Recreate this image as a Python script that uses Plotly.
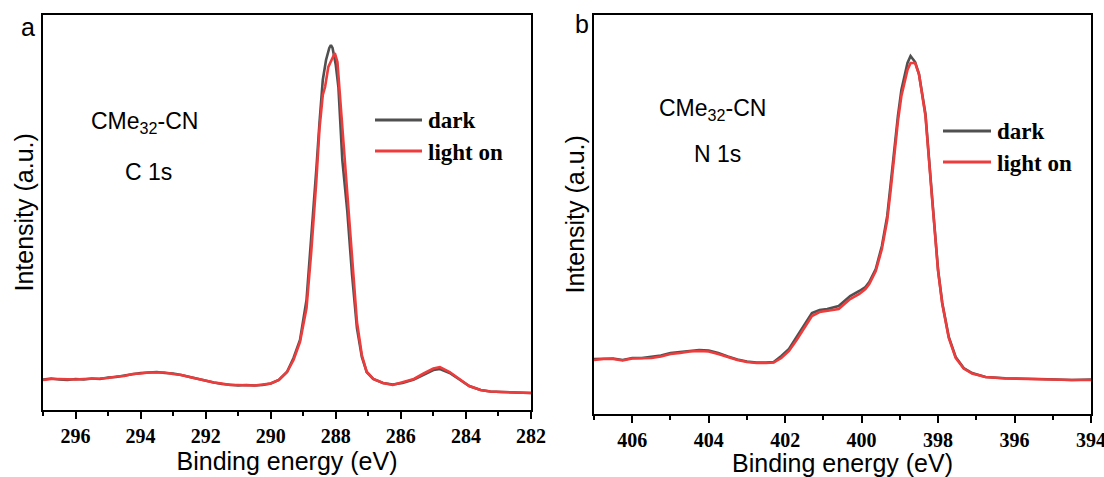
import plotly.graph_objects as go

# ---------------- Panel a: C 1s ----------------
c1s_energy_dark = [297.0, 296.75, 296.5, 296.25, 296.0, 295.75, 295.5, 295.25, 295.0, 294.75,
                   294.5, 294.25, 294.0, 293.75, 293.5, 293.25, 293.0, 292.75, 292.5, 292.25,
                   292.0, 291.75, 291.5, 291.25, 291.0, 290.75, 290.5, 290.25, 290.0, 289.75,
                   289.5, 289.3, 289.1, 288.9, 288.75, 288.6, 288.5, 288.4, 288.3, 288.2,
                   288.15, 288.1, 288.0, 287.92, 287.8, 287.65, 287.5, 287.35, 287.2, 287.05,
                   286.85, 286.55, 286.25, 285.95, 285.6, 285.3, 285.0, 284.8, 284.5, 284.2,
                   283.9, 283.55, 283.25, 282.9, 282.6, 282.3, 282.0]
c1s_dark = [30.5, 31.5, 30.5, 30.0, 31.0, 30.5, 31.5, 31.0, 32.5, 33.0,
            34.5, 36.0, 37.0, 37.5, 38.0, 37.0, 36.5, 35.0, 33.0, 31.5,
            29.5, 27.5, 26.0, 25.0, 24.5, 25.0, 24.5, 25.0, 26.5, 30.0,
            38.0, 52.0, 70.0, 110.0, 172.0, 240.0, 288.0, 330.0, 350.0, 362.0,
            365.0, 362.0, 345.0, 323.0, 250.0, 200.0, 135.0, 82.0, 53.0, 38.0,
            31.0, 27.0, 25.5, 27.0, 30.5, 35.5, 40.0, 41.0, 37.0, 30.5,
            24.0, 20.0, 18.5, 18.0, 17.5, 17.5, 17.0]

c1s_energy_light = [297.0, 296.75, 296.5, 296.25, 296.0, 295.75, 295.5, 295.25, 295.0, 294.75,
                    294.5, 294.25, 294.0, 293.75, 293.5, 293.25, 293.0, 292.75, 292.5, 292.25,
                    292.0, 291.75, 291.5, 291.25, 291.0, 290.75, 290.5, 290.25, 290.0, 289.75,
                    289.5, 289.3, 289.1, 288.9, 288.75, 288.6, 288.5, 288.4, 288.33, 288.23,
                    288.1, 288.03, 287.95, 287.85, 287.72, 287.6, 287.5, 287.35, 287.2, 287.05,
                    286.85, 286.55, 286.25, 285.95, 285.6, 285.3, 285.0, 284.8, 284.5, 284.2,
                    283.9, 283.55, 283.25, 282.9, 282.6, 282.3, 282.0]
c1s_light = [30.0, 31.0, 31.0, 30.5, 30.5, 31.0, 31.0, 31.5, 32.0, 33.5,
             34.0, 36.0, 36.5, 37.5, 37.5, 37.5, 36.0, 35.0, 33.0, 31.0,
             29.5, 27.5, 26.5, 25.0, 25.0, 24.5, 24.5, 25.5, 26.5, 30.0,
             38.0, 50.0, 68.0, 102.0, 160.0, 228.0, 282.0, 315.0, 323.0, 343.0,
             352.0, 357.0, 348.0, 305.0, 242.0, 195.0, 145.0, 88.0, 55.0, 38.0,
             31.0, 27.0, 25.0, 27.5, 31.0, 36.5, 41.5, 43.0, 38.0, 31.0,
             24.0, 20.0, 18.5, 18.0, 17.5, 17.0, 17.0]

# ---------------- Panel b: N 1s ----------------
n1s_energy = [407.0, 406.75, 406.5, 406.25, 406.0, 405.75, 405.5, 405.25, 405.0, 404.75,
              404.5, 404.25, 404.0, 403.75, 403.5, 403.25, 403.0, 402.75, 402.5, 402.3,
              402.1, 401.9, 401.7, 401.5, 401.3, 401.1, 400.9, 400.6, 400.45, 400.3,
              400.06, 399.9, 399.8, 399.63, 399.47, 399.33, 399.24, 399.15, 399.05, 398.96,
              398.87, 398.8, 398.72, 398.6, 398.5, 398.33, 398.15, 398.0, 397.89, 397.72,
              397.54, 397.33, 397.11, 396.76, 396.24, 395.8, 395.37, 394.9, 394.5, 394.0]
n1s_dark = [55.0, 55.5, 55.5, 54.0, 56.0, 56.0, 57.0, 58.5, 61.0, 62.0,
            63.5, 64.0, 63.5, 61.0, 57.5, 54.5, 52.5, 51.5, 51.5, 52.0,
            58.0, 65.0, 77.0, 89.0, 101.0, 104.0, 105.0, 108.0, 113.0, 118.0,
            123.0, 127.0, 132.0, 145.0, 168.0, 198.0, 230.0, 265.0, 298.0, 324.0,
            341.0, 351.0, 358.0, 352.0, 340.0, 300.0, 214.0, 144.0, 111.0, 77.0,
            57.0, 46.0, 41.0, 37.0, 35.7, 35.0, 35.0, 34.5, 34.0, 34.5]
n1s_light = [54.0, 55.0, 55.0, 53.5, 55.5, 55.5, 56.0, 57.5, 60.0, 61.0,
             62.5, 63.0, 62.5, 60.0, 57.0, 54.0, 52.0, 51.0, 51.0, 51.5,
             56.0, 63.0, 74.0, 86.0, 98.0, 102.0, 103.0, 105.0, 110.0, 115.0,
             120.0, 125.0, 130.0, 143.0, 165.0, 194.0, 224.0, 259.0, 293.0, 318.0,
             334.0, 344.0, 351.0, 351.0, 340.0, 298.0, 212.0, 143.0, 110.0, 76.0,
             56.0, 45.5, 40.5, 37.0, 35.5, 35.0, 34.5, 34.5, 34.0, 34.0]

c1s_ticks = [296, 294, 292, 290, 288, 286, 284, 282]
n1s_ticks = [406, 404, 402, 400, 398, 396, 394]
series_names = ["dark", "light on"]
series_colors = ["#505050", "#ee3b3b"]

W, H = 1104, 477


def px(x):
    return x / W


def py(y):
    return 1 - y / H


fig = go.Figure()
fig.add_trace(go.Scatter(x=c1s_energy_dark, y=c1s_dark, name=series_names[0], mode="lines",
                         line=dict(color=series_colors[0], width=2.6), xaxis="x", yaxis="y",
                         showlegend=False))
fig.add_trace(go.Scatter(x=c1s_energy_light, y=c1s_light, name=series_names[1], mode="lines",
                         line=dict(color=series_colors[1], width=2.6), xaxis="x", yaxis="y",
                         showlegend=False))
fig.add_trace(go.Scatter(x=n1s_energy, y=n1s_dark, name=series_names[0], mode="lines",
                         line=dict(color=series_colors[0], width=2.6), xaxis="x2", yaxis="y2",
                         showlegend=False))
fig.add_trace(go.Scatter(x=n1s_energy, y=n1s_light, name=series_names[1], mode="lines",
                         line=dict(color=series_colors[1], width=2.6), xaxis="x2", yaxis="y2",
                         showlegend=False))

tickfont = dict(family="Liberation Serif", size=20, color="black", weight="bold")
titlefont = dict(family="Liberation Sans", size=25, color="black")

xcommon = dict(showline=True, linecolor="black", linewidth=2, mirror=True,
               ticks="outside", ticklen=7, tickwidth=2, tickcolor="black",
               tickfont=tickfont, showgrid=False, zeroline=False, automargin=False,
               ticklabelstandoff=0, ticklabeloverflow="allow",
               minor=dict(ticks="outside", ticklen=4, tickwidth=2, tickcolor="black", dtick=1,
                          showgrid=False),
               title=dict(text="Binding energy (eV)", font=titlefont, standoff=0))
ycommon = dict(showline=True, linecolor="black", linewidth=2, mirror=True,
               ticks="", showticklabels=False, showgrid=False, zeroline=False,
               automargin=False,
               title=dict(text="Intensity (a.u.)", font=titlefont, standoff=0))

fig.update_layout(
    width=W, height=H,
    margin=dict(l=0, r=0, t=0, b=0),
    paper_bgcolor="white", plot_bgcolor="white",
    showlegend=False,
    xaxis=dict(xcommon, domain=[px(43), px(531)], range=[297, 282], anchor="y",
               tickvals=c1s_ticks, ticktext=[str(t) for t in c1s_ticks]),
    yaxis=dict(ycommon, domain=[py(410), py(14.7)], range=[0, 395.3], anchor="x"),
    xaxis2=dict(xcommon, domain=[px(594), px(1091)], range=[407, 394], anchor="y2",
                tickvals=n1s_ticks, ticktext=[str(t) for t in n1s_ticks]),
    yaxis2=dict(ycommon, domain=[py(414), py(14.7)], range=[0, 399.3], anchor="x2"),
)

# legend keys (drawn in paper coordinates)
legend_pos = [(375, 422, 120, 151), (943, 991, 131, 162)]
shapes = []
annotations = []
for (x0, x1, y0, y1) in legend_pos:
    for name, color, yy in zip(series_names, series_colors, (y0, y1)):
        shapes.append(dict(type="line", xref="paper", yref="paper", x0=px(x0), x1=px(x1),
                           y0=py(yy), y1=py(yy), line=dict(color=color, width=3)))
        annotations.append(dict(text=name, xref="paper", yref="paper", x=px(x1 + 4), y=py(yy + 1),
                                xanchor="left", yanchor="middle", showarrow=False,
                                font=dict(family="Liberation Serif", size=23, color="black",
                                          weight="bold")))

labelfont = dict(family="Liberation Sans", size=23, color="black")
annotations += [
    dict(text="a", x=px(28), y=py(27), xanchor="center", yanchor="middle",
         font=dict(family="Liberation Sans", size=25, color="black")),
    dict(text="b", x=px(582), y=py(24), xanchor="center", yanchor="middle",
         font=dict(family="Liberation Sans", size=25, color="black")),
    dict(text="CMe<sub>32</sub>-CN", x=px(89), y=py(122), xanchor="left", yanchor="middle",
         font=labelfont),
    dict(text="C 1s", x=px(148), y=py(172), xanchor="center", yanchor="middle", font=labelfont),
    dict(text="CMe<sub>32</sub>-CN", x=px(657), y=py(109), xanchor="left", yanchor="middle",
         font=labelfont),
    dict(text="N 1s", x=px(717), y=py(154), xanchor="center", yanchor="middle", font=labelfont),
]
for a in annotations:
    a.setdefault("xref", "paper")
    a.setdefault("yref", "paper")
    a.setdefault("showarrow", False)

fig.update_layout(shapes=shapes, annotations=annotations)
fig.write_html("out.html")
